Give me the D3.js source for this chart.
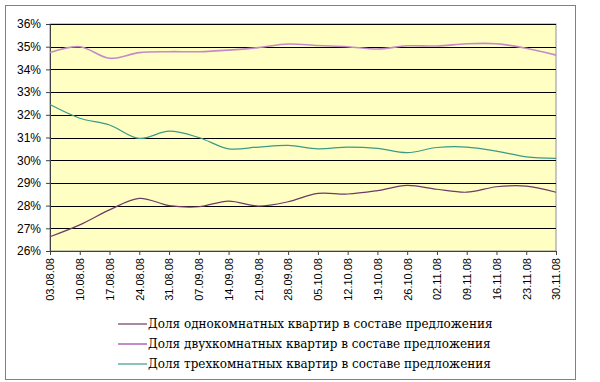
<!DOCTYPE html>
<html>
<head>
<meta charset="utf-8">
<script src="https://cdn.jsdelivr.net/npm/d3@7"></script>
<style>
  body { margin: 0; background: #fff; }
  svg { display: block; }
  .legend-text { font-family: "DejaVu Serif", "Liberation Serif", serif; }
</style>
</head>
<body>
<div id="chart"></div>
<script>
// weekly dates
const dates = ["03.08.08", "10.08.08", "17.08.08", "24.08.08", "31.08.08", "07.09.08",
    "14.09.08", "21.09.08", "28.09.08", "05.10.08", "12.10.08", "19.10.08",
    "26.10.08", "02.11.08", "09.11.08", "16.11.08", "23.11.08", "30.11.08"];

const oneRoom = [26.63, 27.15, 27.81, 28.32, 28.0, 27.95, 28.2, 27.98, 28.17,
    28.54, 28.51, 28.66, 28.89, 28.72, 28.59, 28.83, 28.86, 28.59];
const twoRoom = [34.74, 35.0, 34.49, 34.74, 34.78, 34.78, 34.85, 34.96, 35.12,
    35.05, 35.0, 34.9, 35.04, 35.03, 35.13, 35.13, 34.93, 34.63];
const threeRoom = [32.45, 31.85, 31.55, 30.96, 31.28, 31.0, 30.5, 30.58, 30.65,
    30.5, 30.58, 30.52, 30.33, 30.56, 30.58, 30.4, 30.15, 30.08];

const yTicks = [26, 27, 28, 29, 30, 31, 32, 33, 34, 35, 36];

const seriesNames = [
    "Доля однокомнатных квартир в составе предложения",
    "Доля двухкомнатных квартир в составе предложения",
    "Доля трехкомнатных квартир в составе предложения"
];
const seriesColors = ["#6e3a66", "#c58ac8", "#3a9a88"];

const W = 600, H = 382;
const margin = { top: 24, right: 44, bottom: 131, left: 50 };
const width = W - margin.left - margin.right;
const height = H - margin.top - margin.bottom;

const svg = d3.select("#chart").append("svg")
    .attr("width", W)
    .attr("height", H);

// outer frame
svg.append("rect")
    .attr("x", 5.5).attr("y", 5.5)
    .attr("width", 570).attr("height", 374)
    .attr("fill", "#fff")
    .attr("stroke", "#808080")
    .attr("stroke-width", 1);

const g = svg.append("g")
    .attr("transform", `translate(${margin.left},${margin.top})`);

const x = d3.scalePoint()
    .domain(dates)
    .range([0, width]);

const y = d3.scaleLinear()
    .domain([26, 36])
    .range([height, 0]);

g.append("rect")
    .attr("width", width)
    .attr("height", height)
    .attr("fill", "#ffffc4")
    .attr("stroke", "#909090");

// gridlines
g.selectAll(".grid")
    .data(yTicks.filter(d => d > 26))
    .enter().append("line")
    .attr("class", "grid")
    .attr("x1", 0).attr("x2", width)
    .attr("y1", d => Math.round(y(d)) + 0.5)
    .attr("y2", d => Math.round(y(d)) + 0.5)
    .attr("stroke", "#000")
    .attr("stroke-width", 1);

// y axis
const yAxis = g.append("g")
    .call(d3.axisLeft(y).tickValues(yTicks).tickSize(4).tickFormat(d => d + "%"));
yAxis.select(".domain").attr("stroke", "#404040");
yAxis.selectAll(".tick line").attr("stroke", "#404040");
yAxis.selectAll("text")
    .attr("x", -9)
    .style("font-family", "Arial, 'Liberation Sans', sans-serif")
    .style("font-size", "12px")
    .style("fill", "#000");

// x axis
const xAxis = g.append("g")
    .attr("transform", `translate(0,${height})`)
    .call(d3.axisBottom(x).tickSize(4));
xAxis.select(".domain").attr("stroke", "#404040");
xAxis.selectAll(".tick line").attr("stroke", "#404040");
xAxis.selectAll("text")
    .attr("transform", "rotate(-90)")
    .attr("x", -7)
    .attr("y", 0)
    .attr("dy", "0.35em")
    .style("text-anchor", "end")
    .style("font-family", "Arial, 'Liberation Sans', sans-serif")
    .style("font-size", "11px")
    .style("fill", "#000");

const line = d3.line()
    .x((d, i) => x(dates[i]))
    .y(d => y(d))
    .curve(d3.curveCatmullRom.alpha(0.5));

[oneRoom, twoRoom, threeRoom].forEach((s, i) => {
    g.append("path")
        .datum(s)
        .attr("fill", "none")
        .attr("stroke", seriesColors[i])
        .attr("stroke-width", i === 1 ? 1.6 : 1.2)
        .attr("d", line);
});

// legend
const legend = svg.append("g")
    .attr("transform", "translate(118,324)");

const rows = legend.selectAll(".row")
    .data(seriesNames)
    .enter().append("g")
    .attr("class", "row")
    .attr("transform", (d, i) => `translate(0,${i * 20})`);

rows.append("line")
    .attr("x1", 0).attr("x2", 29)
    .attr("y1", 0).attr("y2", 0)
    .attr("stroke", (d, i) => seriesColors[i])
    .attr("stroke-width", (d, i) => i === 1 ? 2 : 1.2);

rows.append("text")
    .attr("class", "legend-text")
    .attr("x", 30)
    .attr("y", 0)
    .attr("dy", "0.35em")
    .attr("font-size", 12)
    .attr("fill", "#000")
    .text(d => d);
</script>
</body>
</html>
